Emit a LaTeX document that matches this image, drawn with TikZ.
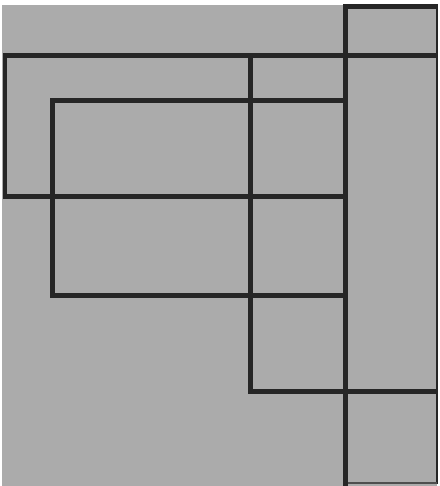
\documentclass[tikz,border=0pt]{standalone}
\usepackage{tikz}
\usepackage{xcolor}

\definecolor{paper}{RGB}{171,171,171}
\definecolor{ink}{RGB}{38,38,38}

\begin{document}
\begin{tikzpicture}[x=0.02cm, y=-0.02cm]

        % Style for the frame lines
        \tikzset{frame/.style={draw=ink, line width=0.1cm, line cap=rect}}
        \tikzset{edge/.style={draw=ink, line width=0.05cm}}

        \useasboundingbox (0,0) rectangle (439,486);

        % =================================================================
        % 1. BACKGROUND
        % =================================================================
        \fill[paper] (2,5) rectangle (437,486);

        % =================================================================
        % 2. LINES
        % =================================================================

        % Define Coordinates
        \coordinate (TL) at (5,56);
        \coordinate (TR) at (435,56);
        \coordinate (IL) at (52,101);

        % Right column
        \draw[edge] (437,6) -- (437,484);
        \draw[edge, draw=ink!70!paper, line width=0.03cm] (345,483) -- (437,483);
        \draw[frame] (435,7) -- (345,7) -- (345,486);
        \draw[frame] (345,56) -- (TR);
        \draw[frame] (250,391) -- (435,391);

        % Outer left rectangle
        \draw[frame] (TL) -- (TR);
        \draw[frame] (TL) -- (5,196) -- (345,196);

        % Inner rectangle
        \draw[frame] (IL) -- (345,101);
        \draw[frame] (IL) -- (52,295) -- (345,295);

        % Middle column
        \draw[frame] (250,56) -- (250,391);

\end{tikzpicture}
\end{document}
